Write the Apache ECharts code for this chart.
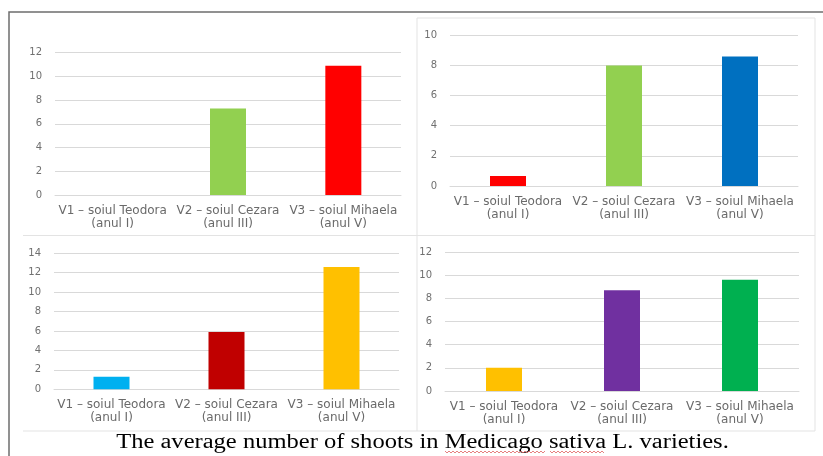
<!DOCTYPE html>
<html><head><meta charset="utf-8">
<script src="https://cdn.jsdelivr.net/npm/echarts@6/dist/echarts.min.js"></script>
<style>html,body{margin:0;padding:0;background:#fff}#c{width:823px;height:456px}</style>
</head><body><div id="c"></div>
<script>
const categories = ['V1 – soiul Teodora\n(anul I)', 'V2 – soiul Cezara\n(anul III)', 'V3 – soiul Mihaela\n(anul V)'];
const values1 = [0, 7.3, 10.9];
const values2 = [0.66, 8.0, 8.6];
const values3 = [1.3, 5.9, 12.6];
const values4 = [2.0, 8.7, 9.6];
const colors1 = ['#ff0000', '#92d050', '#ff0000'];
const colors2 = ['#ff0000', '#92d050', '#0070c0'];
const colors3 = ['#00b0f0', '#c00000', '#ffc000'];
const colors4 = ['#ffc000', '#7030a0', '#00b050'];
const yMax = [12, 10, 14, 12];
const caption = 'The average number of shoots in Medicago sativa L. varieties.';

const grids = [
  {left: 55, top: 52.7, width: 346, height: 142.3},
  {left: 450, top: 35.3, width: 348, height: 150.7},
  {left: 54, top: 253.3, width: 345, height: 136},
  {left: 445, top: 252, width: 354, height: 139}
];
const valueSets = [values1, values2, values3, values4];
const colorSets = [colors1, colors2, colors3, colors4];

function wavy(x1, x2, y) {
  const pts = [];
  for (let x = x1, k = 0; x <= x2; x += 2, k++) pts.push([x, y + (k % 2 ? 1 : -1)]);
  return pts;
}

const chart = echarts.init(document.getElementById('c'), null, {renderer: 'canvas'});
chart.setOption({
  backgroundColor: '#fff',
  animation: false,
  grid: grids.map(g => Object.assign({containLabel: false}, g)),
  xAxis: grids.map((g, i) => ({
    type: 'category', gridIndex: i, data: categories,
    axisLine: {lineStyle: {color: '#d9d9d9'}}, axisTick: {show: false},
    axisLabel: {interval: 0, margin: 9, lineHeight: 13, color: '#6a6a6a', fontFamily: 'DejaVu Sans', fontSize: 12}
  })),
  yAxis: grids.map((g, i) => ({
    type: 'value', gridIndex: i, min: 0, max: yMax[i], interval: 2,
    axisLine: {show: false}, axisTick: {show: false},
    splitLine: {lineStyle: {color: '#d9d9d9'}},
    axisLabel: {margin: 13, color: '#707070', fontFamily: 'DejaVu Sans', fontSize: 10}
  })),
  series: valueSets.map((vals, i) => ({
    type: 'bar', xAxisIndex: i, yAxisIndex: i, barWidth: 36,
    data: vals.map((v, j) => ({value: v, itemStyle: {color: colorSets[i][j]}}))
  })),
  graphic: [
    {type: 'rect', shape: {x: 9, y: 12, width: 830, height: 470}, style: {fill: null, stroke: '#6d6d6d', lineWidth: 1.5}, z: 10},
    {type: 'line', shape: {x1: 417, y1: 18, x2: 417, y2: 431}, style: {stroke: '#e3e3e3', lineWidth: 1}},
    {type: 'line', shape: {x1: 417, y1: 18, x2: 815, y2: 18}, style: {stroke: '#e3e3e3', lineWidth: 1}},
    {type: 'line', shape: {x1: 815, y1: 18, x2: 815, y2: 431}, style: {stroke: '#e3e3e3', lineWidth: 1}},
    {type: 'line', shape: {x1: 23, y1: 235.5, x2: 815, y2: 235.5}, style: {stroke: '#e3e3e3', lineWidth: 1}},
    {type: 'line', shape: {x1: 23, y1: 431, x2: 815, y2: 431}, style: {stroke: '#e3e3e3', lineWidth: 1}},
    {type: 'text', x: 422.5, y: 433, scaleX: 1.227, z: 20,
     style: {text: caption, textAlign: 'center', textVerticalAlign: 'top', verticalAlign: 'top',
             font: '20px "Liberation Serif"', fill: '#000'}},
    {type: 'polyline', shape: {points: wavy(445, 545, 452)}, style: {stroke: '#e06060', lineWidth: 0.8, fill: null}, z: 21},
    {type: 'polyline', shape: {points: wavy(550, 605, 452)}, style: {stroke: '#e06060', lineWidth: 0.8, fill: null}, z: 21}
  ]
});
</script></body></html>
